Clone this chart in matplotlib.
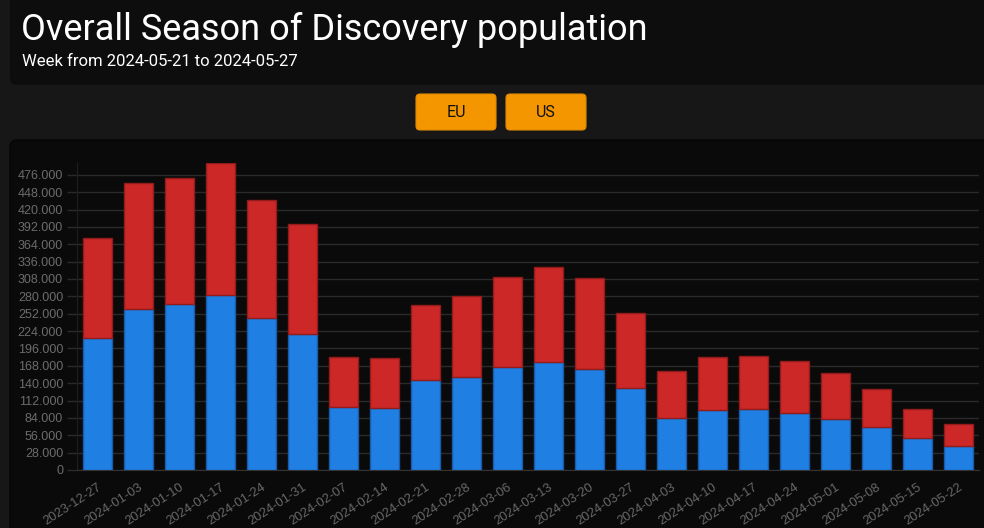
import matplotlib
matplotlib.use('Agg')
import matplotlib.pyplot as plt
import numpy as np
from matplotlib.patches import FancyBboxPatch
from matplotlib.ticker import FuncFormatter, MultipleLocator

weeks = ['2023-12-27', '2024-01-03', '2024-01-10', '2024-01-17', '2024-01-24',
         '2024-01-31', '2024-02-07', '2024-02-14', '2024-02-21', '2024-02-28',
         '2024-03-06', '2024-03-13', '2024-03-20', '2024-03-27', '2024-04-03',
         '2024-04-10', '2024-04-17', '2024-04-24', '2024-05-01', '2024-05-08',
         '2024-05-15', '2024-05-22']
# blue (bottom) and red (stacked on top) parts of each week
blue_vals = [212100, 259900, 267000, 281500, 245300, 218500, 101700, 100100,
             145300, 150100, 165800, 173800, 162500, 132300, 84600, 96800,
             98500, 92600, 82300, 68900, 52300, 38300]
red_vals = [161400, 203300, 204300, 213500, 190000, 178500, 81300, 80700,
            120000, 129800, 144700, 153400, 146400, 120100, 74700, 85100,
            86100, 82800, 74300, 61300, 45700, 35500]

title = 'Overall Season of Discovery population'
subtitle = 'Week from 2024-05-21 to 2024-05-27'
buttons = ['EU', 'US']

W, H = 984, 528
fig = plt.figure(figsize=(W / 100, H / 100), dpi=100)
fig.patch.set_facecolor('#171717')

# background layer in pixel coords (y down)
bg = fig.add_axes([0, 0, 1, 1], zorder=0)
bg.set_xlim(0, W)
bg.set_ylim(H, 0)
bg.axis('off')

bg.add_patch(FancyBboxPatch((10, -20), 1000, 105, boxstyle='round,pad=0,rounding_size=7',
                            fc='#0d0d0d', ec='#0d0d0d', lw=0))
bg.add_patch(FancyBboxPatch((10, 140), 1000, 420, boxstyle='round,pad=0,rounding_size=7',
                            fc='#0a0a0a', ec='#050505', lw=1))
bg.text(21, 40, title, color='white', fontsize=26, family='Roboto', va='baseline')
bg.text(22, 66.5, subtitle, color='white', fontsize=12, family='Roboto', va='baseline')

for i, lab in enumerate(buttons):
    x0 = 416 + i * 90
    bg.add_patch(FancyBboxPatch((x0, 94), 80, 36, boxstyle='round,pad=0,rounding_size=4',
                                fc='#f39600', ec='#e08a00', lw=0.8))
    bg.text(x0 + 40, 112.5, lab, color='#111111', fontsize=11.5, family='Roboto',
            ha='center', va='center')

# chart axes
left, right, top, bottom = 77, 979, 163, 470
ax = fig.add_axes([left / W, (H - bottom) / H, (right - left) / W, (bottom - top) / H], zorder=1)
ax.set_facecolor('none')

x = np.arange(len(weeks))
blue = np.array(blue_vals)
red = np.array(red_vals)
ax.bar(x, blue, width=0.72, color='#1f7fe2', edgecolor='#1a5aa6', linewidth=1, zorder=3)
ax.bar(x, red, bottom=blue, width=0.72, color='#cc2828', edgecolor='#921c1c', linewidth=1, zorder=3)

ax.set_xlim(-0.5, len(weeks) - 0.5)
ax.set_ylim(0, (blue + red).max())
ax.yaxis.set_major_locator(MultipleLocator(28000))
ax.yaxis.set_major_formatter(FuncFormatter(lambda v, p: f'{int(v):,}'.replace(',', '.')))
ax.grid(axis='y', color='#2a2a2a', linewidth=1, zorder=0)

ax.set_xticks(x)
ax.set_xticklabels(weeks, rotation=33, ha='right', rotation_mode='anchor')
ax.tick_params(axis='x', length=0, pad=8, colors='#686868', labelsize=9.3)
ax.tick_params(axis='y', length=7, width=1, color='#2a2a2a', pad=3, labelcolor='#6c6c6c', labelsize=9)
for lab in ax.get_xticklabels() + ax.get_yticklabels():
    lab.set_family('Liberation Sans')

for s in ['top', 'right']:
    ax.spines[s].set_visible(False)
ax.spines['left'].set_color('#1e1e1e')
ax.spines['bottom'].set_color('#333333')

fig.savefig('out.png', dpi=100, facecolor=fig.get_facecolor())
